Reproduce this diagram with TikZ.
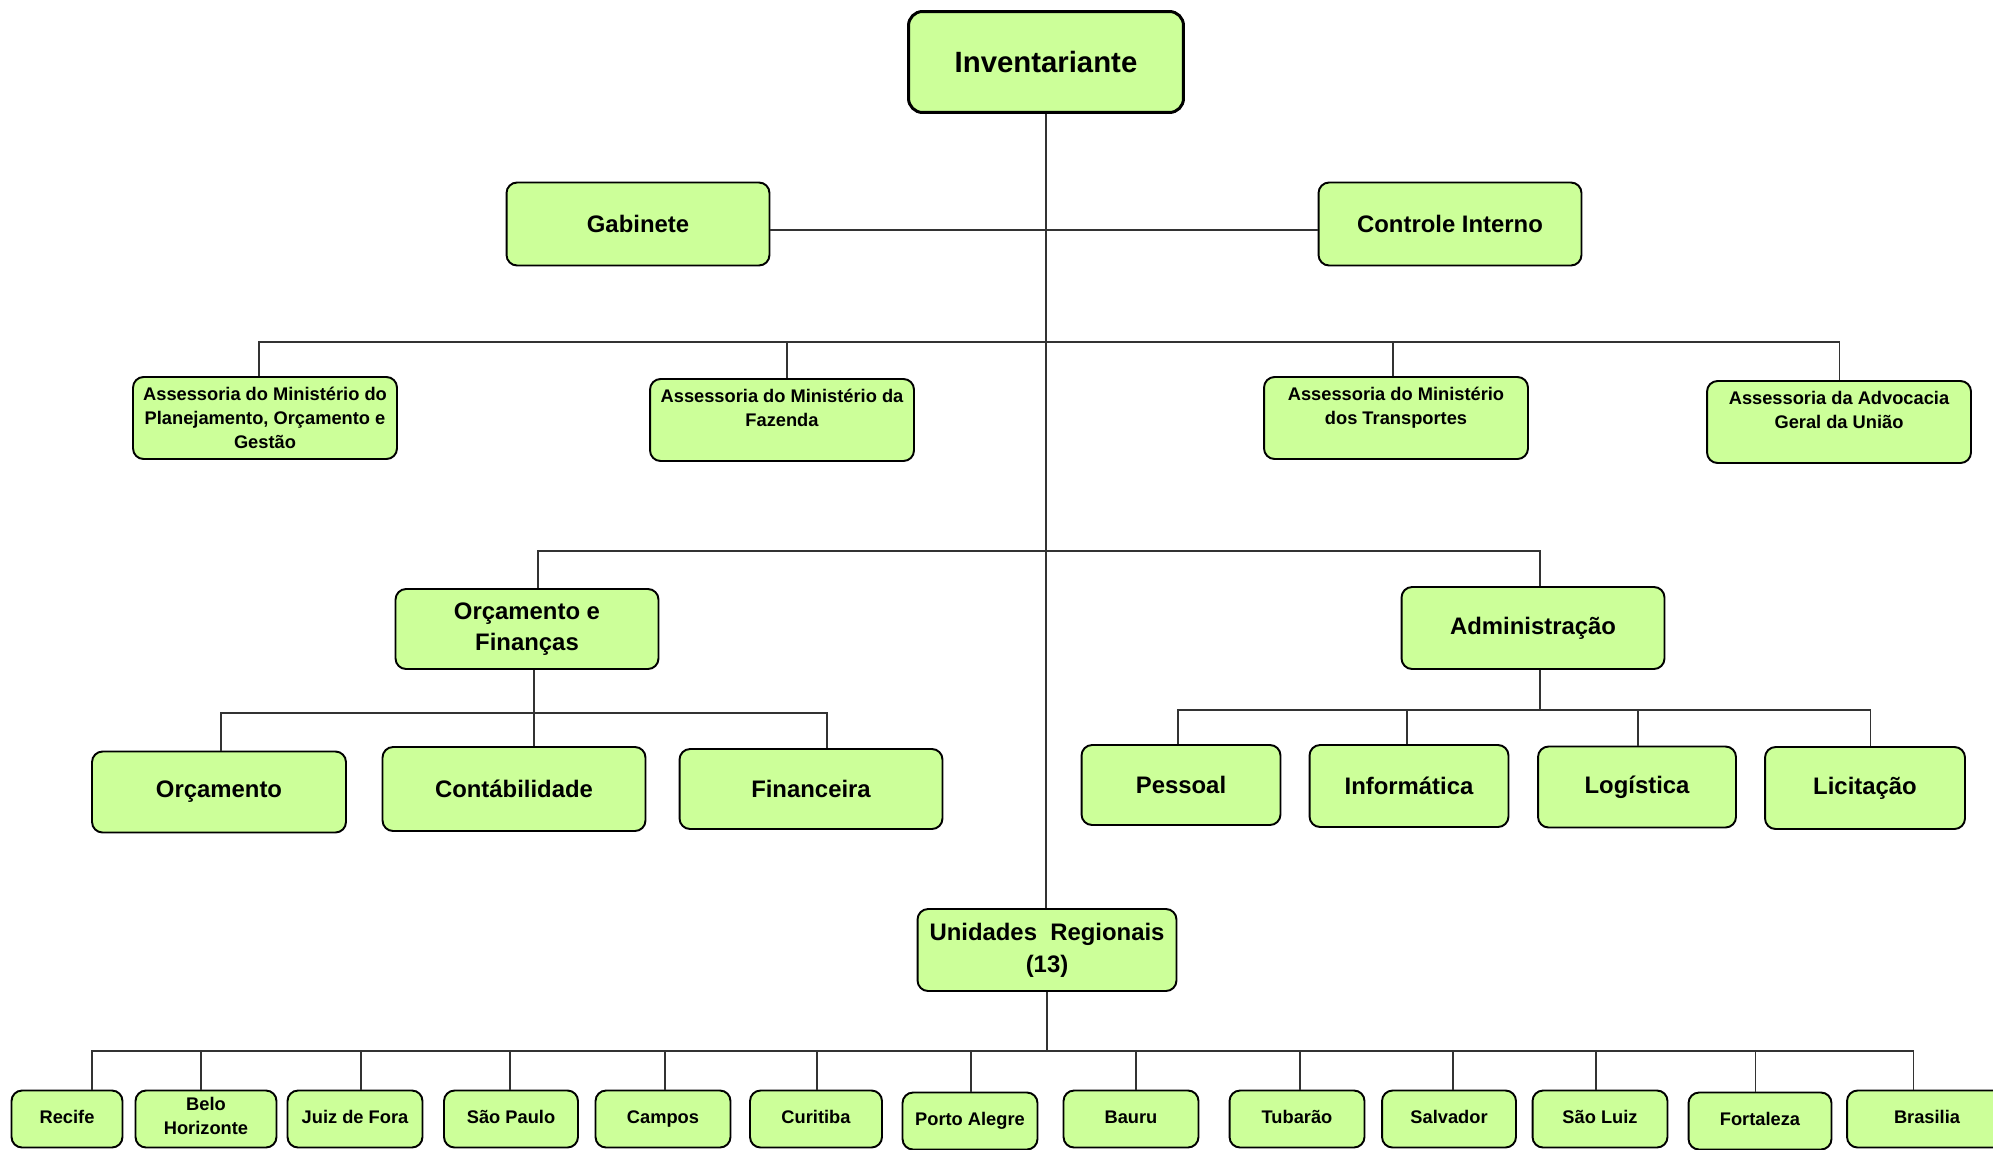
\documentclass[tikz,border=0pt]{standalone}
\usepackage{fontspec}
\setmainfont{Liberation Sans}
\usepackage{xcolor}
\definecolor{boxfill}{HTML}{CCFF99}

\begin{document}
\begin{tikzpicture}[x=0.02cm, y=-0.02cm,
    box/.style={draw=black, fill=boxfill, line width=1.1pt, rounded corners=6pt,
                align=center, inner sep=2pt,
                font=\bfseries\fontsize{13.6}{18}\selectfont},
    chief/.style={box, line width=1.7pt, rounded corners=8pt,
                  minimum width=5.5cm, minimum height=2.02cm,
                  font=\bfseries\fontsize{16.7}{20}\selectfont},
    small/.style={box, font=\bfseries\fontsize{10.4}{13.6}\selectfont},
    adv/.style={small, minimum width=5.28cm, minimum height=1.64cm},
    city/.style={small, minimum height=1.14cm, execute at begin node=\strut},
    link/.style={draw=black!80, line width=0.6pt}]
  \useasboundingbox (0,0) rectangle (1993,1149);
  \clip (0,0) rectangle (1993,1149);

  % top
  \node[chief] (inv) at (1046,62) {Inventariante};
  \node[box, minimum width=5.26cm, minimum height=1.66cm] (gab) at (638,224) {Gabinete};
  \node[box, minimum width=5.26cm, minimum height=1.66cm] (ci) at (1450,224) {Controle Interno};

  % assessorias
  \node[adv] (a1) at (265,418) {Assessoria do Ministério do\\Planejamento, Orçamento e\\Gestão};
  \node[adv] (a2) at (782,420) {Assessoria do Ministério da\\Fazenda\\~};
  \node[adv] (a3) at (1396,418) {Assessoria do Ministério\\dos Transportes\\~};
  \node[adv] (a4) at (1839,422) {Assessoria da Advocacia\\Geral da União\\~};

  % diretorias
  \node[box, minimum width=5.26cm, minimum height=1.6cm] (of) at (527,629) {Orçamento e\\Finanças};
  \node[box, minimum width=5.26cm, minimum height=1.64cm] (ad) at (1533,628) {Administração};

  \node[box, minimum width=5.08cm, minimum height=1.62cm] (orc) at (219,792) {Orçamento};
  \node[box, minimum width=5.26cm, minimum height=1.68cm] (cont) at (514,789) {Contábilidade};
  \node[box, minimum width=5.26cm, minimum height=1.6cm] (fin) at (811,789) {Financeira};

  \node[box, minimum width=3.98cm, minimum height=1.6cm] (pes) at (1181,785) {Pessoal};
  \node[box, minimum width=3.98cm, minimum height=1.64cm] (inf) at (1409,786) {Informática};
  \node[box, minimum width=3.96cm, minimum height=1.62cm] (log) at (1637,787) {Logística};
  \node[box, minimum width=4.0cm, minimum height=1.64cm] (lic) at (1865,788) {Licitação};

  \node[box, minimum width=5.18cm, minimum height=1.64cm] (ur) at (1047,950) {Unidades\ \ Regionais\\(13)};

  % links
  \draw[link] (inv.south) -- (inv.south |- ur.north);
  \draw[link] ([yshift=-0.12cm]gab.east) -- ([yshift=-0.12cm]ci.west);

  \path (inv.south) ++(0,228) coordinate (bus2);
  \foreach \n/\d in {a1/259, a2/787, a3/1393, a4/1839} {
    \coordinate (drop) at (\d,0);
    \draw[link] (bus2) -| (\n.north -| drop);
  }

  \path (inv.south) ++(0,437) coordinate (bus3);
  \foreach \n/\d in {of/538, ad/1540} {
    \coordinate (drop) at (\d,0);
    \draw[link] (bus3) -| (\n.north -| drop);
  }

  \coordinate (ofbus) at (534,713);
  \draw[link] (of.south -| ofbus) -- (ofbus);
  \foreach \n/\d in {orc/221, cont/534, fin/827} {
    \coordinate (drop) at (\d,0);
    \draw[link] (ofbus) -| (\n.north -| drop);
  }

  \coordinate (adbus) at (1540,710);
  \draw[link] (ad.south -| adbus) -- (adbus);
  \foreach \n/\d in {pes/1178, inf/1407, log/1638, lic/1870} {
    \coordinate (drop) at (\d,0);
    \draw[link] (adbus) -| (\n.north -| drop);
  }

  % unidades regionais
  \path (ur.south) ++(0,59) coordinate (ubus);
  \draw[link] (ur.south) -- (ubus);
  \foreach \n/\x/\y/\w/\d/\t in {
      recife/67/1119/2.22/92/Recife,
      belo/206/1119/2.82/201/{Belo\\Horizonte},
      juiz/355/1119/2.70/361/Juiz de Fora,
      sp/511/1119/2.68/510/São Paulo,
      campos/663/1119/2.70/665/Campos,
      curitiba/816/1119/2.64/817/Curitiba,
      poa/970/1121/2.70/971/Porto Alegre,
      bauru/1131/1119/2.70/1136/Bauru,
      tubarao/1297/1119/2.70/1300/Tubarão,
      salvador/1449/1119/2.68/1453/Salvador,
      sluiz/1600/1119/2.70/1596/São Luiz,
      fortaleza/1760/1121/2.86/1755/Fortaleza,
      brasilia/1927/1119/3.20/1913/Brasilia} {
    \node[city, minimum width=\w cm] (\n) at (\x,\y) {\t};
    \coordinate (drop) at (\d,0);
    \draw[link] (ubus) -| (\n.north -| drop);
  }
\end{tikzpicture}
\end{document}
